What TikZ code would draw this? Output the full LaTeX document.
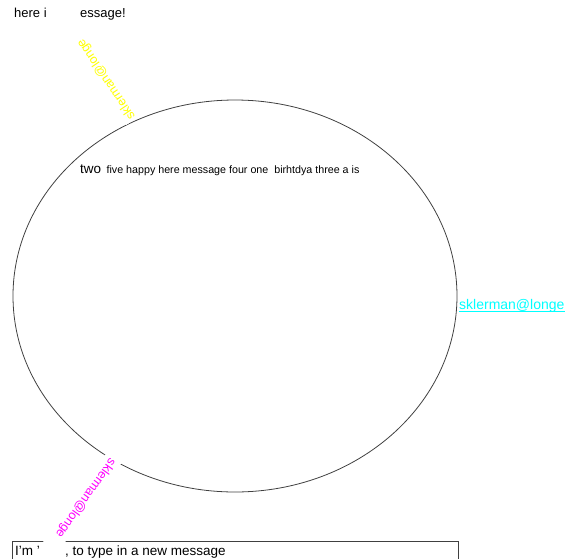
\documentclass[tikz,border=0pt]{standalone}
\usepackage{fontspec}
\setmainfont{Liberation Sans}
\usetikzlibrary{positioning}
\definecolor{senderY}{RGB}{255,255,0}
\definecolor{senderM}{RGB}{255,0,255}
\definecolor{senderC}{RGB}{0,255,255}
\tikzset{
	msg/.style={anchor=base west, inner sep=0pt, text=black, font=\fontsize{13}{15}\selectfont},
	word/.style={anchor=base west, inner sep=0pt, text=black, font=\fontsize{10.7}{12}\selectfont},
	addr/.style={fill=white, anchor=west, inner sep=2pt, minimum height=18pt, text width=140pt, align=left, font=\fontsize{12.5}{14}\selectfont},
	oval/.style={draw=black!75, line width=.8pt},
	inbox/.style={draw=black!75, line width=.8pt}
}

\begin{document}
\begin{tikzpicture}[x=1pt,y=-1pt]
		\useasboundingbox (0,0) rectangle (566,558);
		\clip (0,0) rectangle (566,558);
		%%%card
		\draw[oval] (235,296) ellipse [x radius=222, y radius=196];
		\draw[inbox] (12,541) rectangle (458,590);
		%%%senders
		\node[addr,text=senderY,rotate=124] (yel) at (134,120) {sklerman@longe};
		\node[addr,text=senderM,rotate=234.5] (mag) at (114,458) {sklerman@longe};
		\node[msg,text=senderC,font=\fontsize{14}{16}\selectfont] (cya) at (459,309) {sklerman@longe};
		\draw[senderC,line width=.9pt] ([yshift=-2.5pt]cya.base west) -- ([yshift=-2.5pt]cya.base east);
		%%%words
		\node[msg,font=\fontsize{13.5}{15}\selectfont] (two) at (80,173) {two};
		\node[word] (rest) at ([xshift=5pt]two.base east) {five happy here message four one\ \ birhtdya three a is};
		%%%messages
		\node[msg] (top1) at (14,17) {here i};
		\node[msg] (top2) at (80,17) {essage!};
		\node[msg,font=\fontsize{13.5}{15}\selectfont] (bot1) at (15,555) {I'm '};
		\node[msg,font=\fontsize{13.5}{15}\selectfont] (bot2) at (65,555) {, to type in a new message};
	\end{tikzpicture}
\end{document}
